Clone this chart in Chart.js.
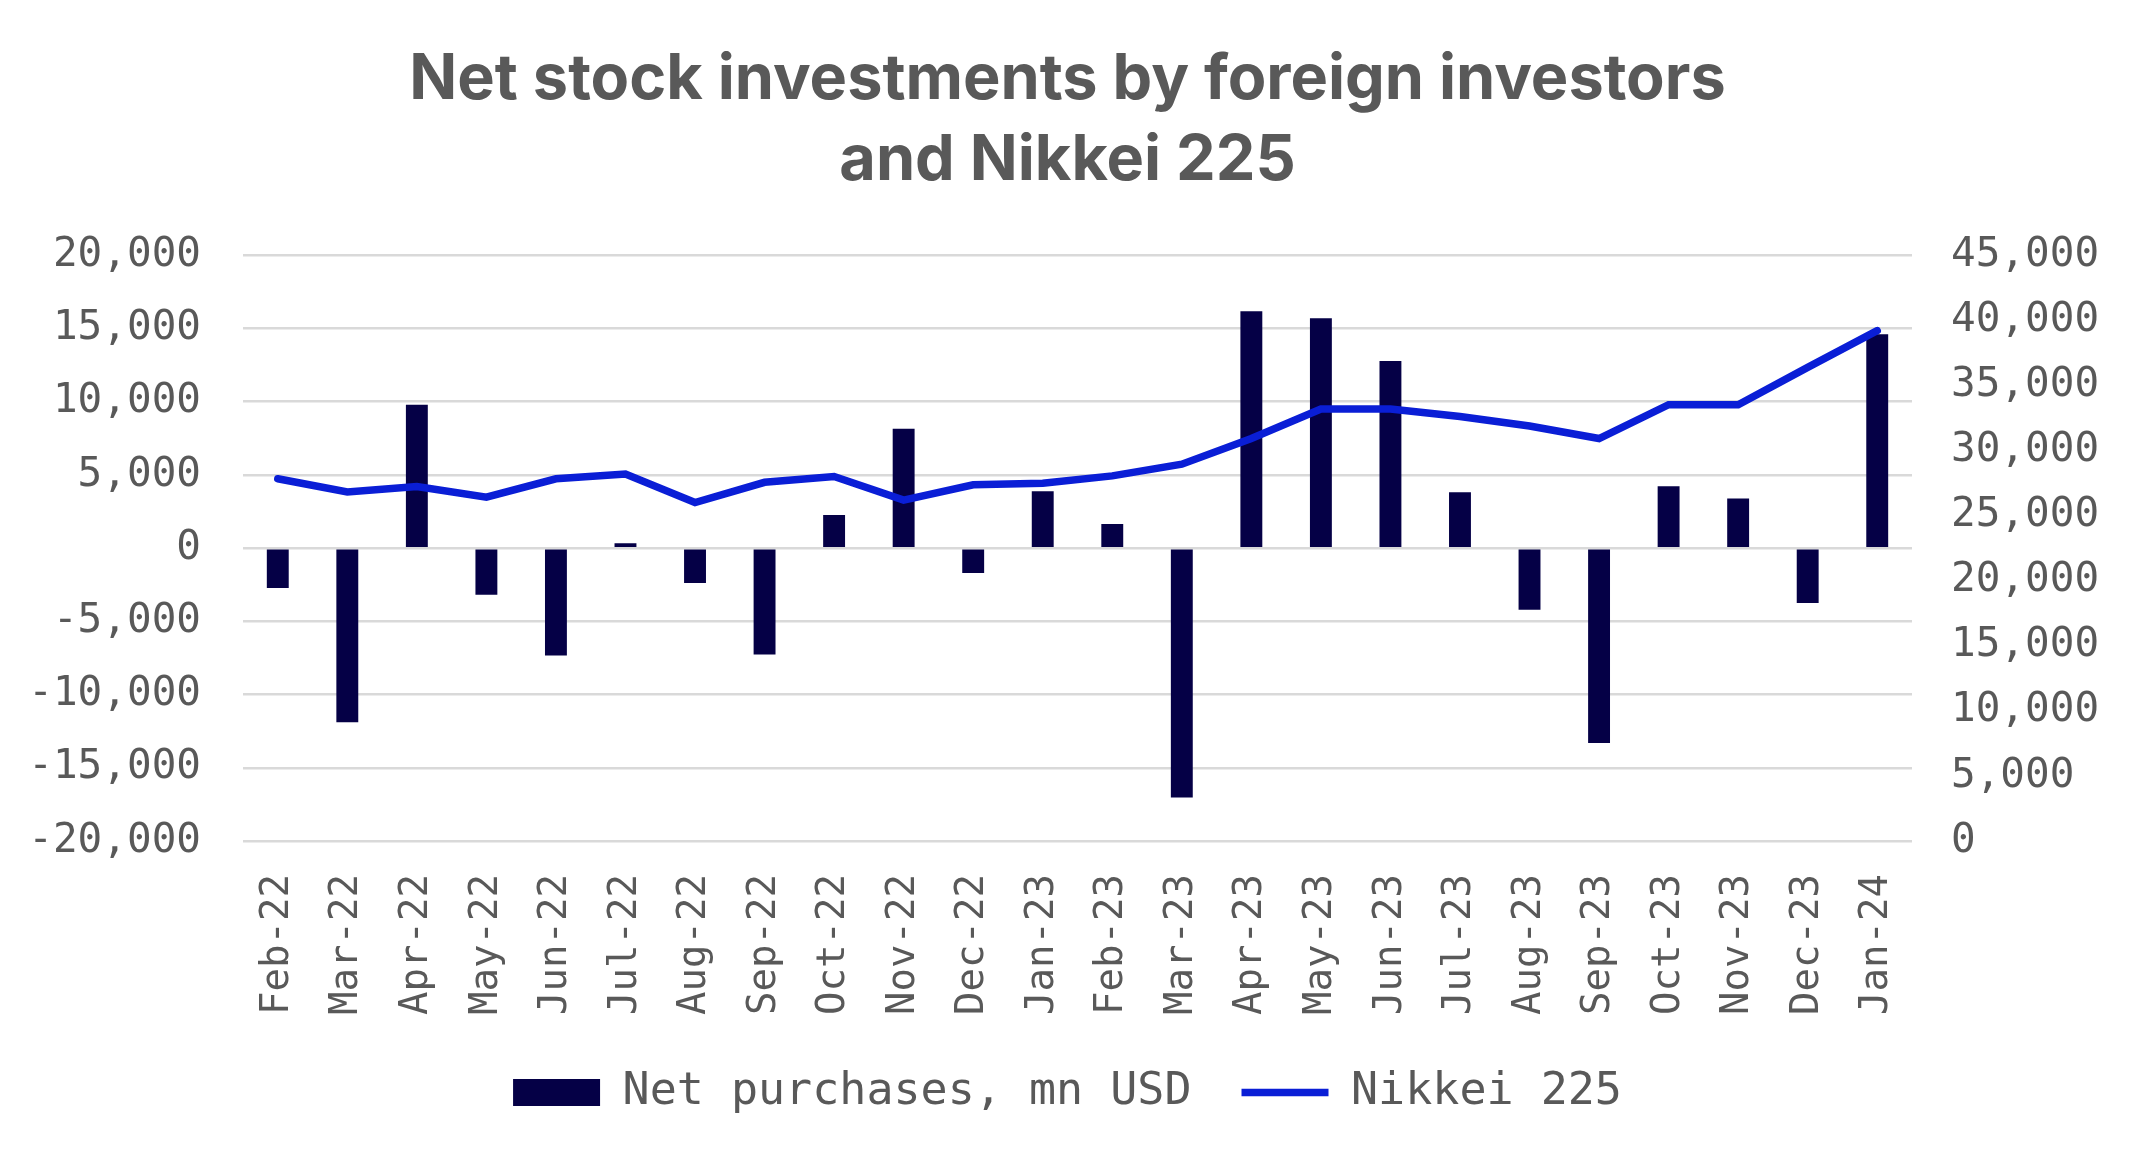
<!DOCTYPE html>
<html>
<head>
<meta charset="utf-8">
<script src="https://cdn.jsdelivr.net/npm/chart.js@4.4.1/dist/chart.umd.min.js"></script>
<style>
  html, body { margin: 0; padding: 0; background: #ffffff; }
  #wrap { width: 2135px; height: 1168px; }
</style>
</head>
<body>
<div id="wrap"><canvas id="chart" width="2135" height="1168"></canvas></div>
<script>
// months on the x axis
const months = ['Feb-22', 'Mar-22', 'Apr-22', 'May-22', 'Jun-22', 'Jul-22', 'Aug-22', 'Sep-22',
    'Oct-22', 'Nov-22', 'Dec-22', 'Jan-23', 'Feb-23', 'Mar-23', 'Apr-23', 'May-23', 'Jun-23',
    'Jul-23', 'Aug-23', 'Sep-23', 'Oct-23', 'Nov-23', 'Dec-23', 'Jan-24'];

// net purchases, mn USD (left axis)
const netPurchases = [-2720, -11890, 9800, -3180, -7330, 340, -2380, -7260, 2260, 8150, -1700, 3880,
    1650, -17030, 16180, 15700, 12780, 3810, -4200, -13300, 4220, 3390, -3740, 14600];

// Nikkei 225 (right axis)
const nikkei = [27830, 26820, 27230, 26410, 27830, 28190, 26000, 27560, 28000, 26190, 27370, 27480,
    28050, 28950, 30920, 33190, 33190, 32620, 31880, 30920, 33520, 33520, 36390, 39210];

const leftRange = [-20000, 20000];
const rightRange = [0, 45000];
const tickStep = 5000;

const grey = '#595959';
const mono = 'DejaVu Sans Mono';

const fmt = v => v.toLocaleString('en-US');

const ctx = document.getElementById('chart').getContext('2d');

new Chart(ctx, {
    type: 'bar',
    data: {
        labels: months,
        datasets: [{
            type: 'bar',
            label: 'Net purchases, mn USD',
            data: netPurchases,
            backgroundColor: '#050046',
            borderWidth: 0,
            barPercentage: 0.315,
            categoryPercentage: 1,
            pointStyle: 'rect',
            yAxisID: 'y',
            order: 2
        }, {
            type: 'line',
            label: 'Nikkei 225',
            data: nikkei,
            borderColor: '#0a1ed6',
            backgroundColor: '#0a1ed6',
            borderWidth: 7.5,
            borderCapStyle: 'round',
            pointRadius: 0,
            pointStyle: 'line',
            tension: 0,
            yAxisID: 'y1',
            order: 1
        }]
    },
    options: {
        responsive: false,
        animation: false,
        layout: {
            padding: { left: 0, right: 0, top: 0, bottom: 43 }
        },
        plugins: {
            title: {
                display: true,
                text: ['Net stock investments by foreign investors', 'and Nikkei 225'],
                color: grey,
                font: { family: 'Inter', weight: 'bold', size: 63, lineHeight: 1.28 },
                padding: { top: 40, bottom: 54 }
            },
            legend: {
                position: 'bottom',
                labels: {
                    sort: (a, b) => a.datasetIndex - b.datasetIndex,
                    color: grey,
                    font: { family: mono, size: 45 },
                    usePointStyle: true,
                    pointStyleWidth: 87,
                    boxWidth: 87,
                    boxHeight: 27,
                    padding: 50
                }
            },
            tooltip: { enabled: false }
        },
        scales: {
            x: {
                grid: { display: false, drawTicks: false },
                border: { display: false },
                ticks: {
                    color: grey,
                    font: { family: mono, size: 39 },
                    maxRotation: 90,
                    minRotation: 90,
                    autoSkip: false,
                    padding: 33
                },
                afterFit: s => { s.height = 179; }
            },
            y: {
                position: 'left',
                min: leftRange[0],
                max: leftRange[1],
                grid: { color: '#d9d9d9', lineWidth: 2.5, drawTicks: false },
                border: { display: false },
                ticks: {
                    stepSize: tickStep,
                    color: grey,
                    font: { family: mono, size: 41 },
                    padding: 42,
                    callback: v => fmt(v)
                },
                afterFit: s => { s.width = 243; }
            },
            y1: {
                position: 'right',
                min: rightRange[0],
                max: rightRange[1],
                grid: { display: false, drawTicks: false },
                border: { display: false },
                ticks: {
                    stepSize: tickStep,
                    color: grey,
                    font: { family: mono, size: 41 },
                    padding: 39,
                    callback: v => fmt(v)
                },
                afterFit: s => { s.width = 223; }
            }
        }
    }
});
</script>
</body>
</html>
